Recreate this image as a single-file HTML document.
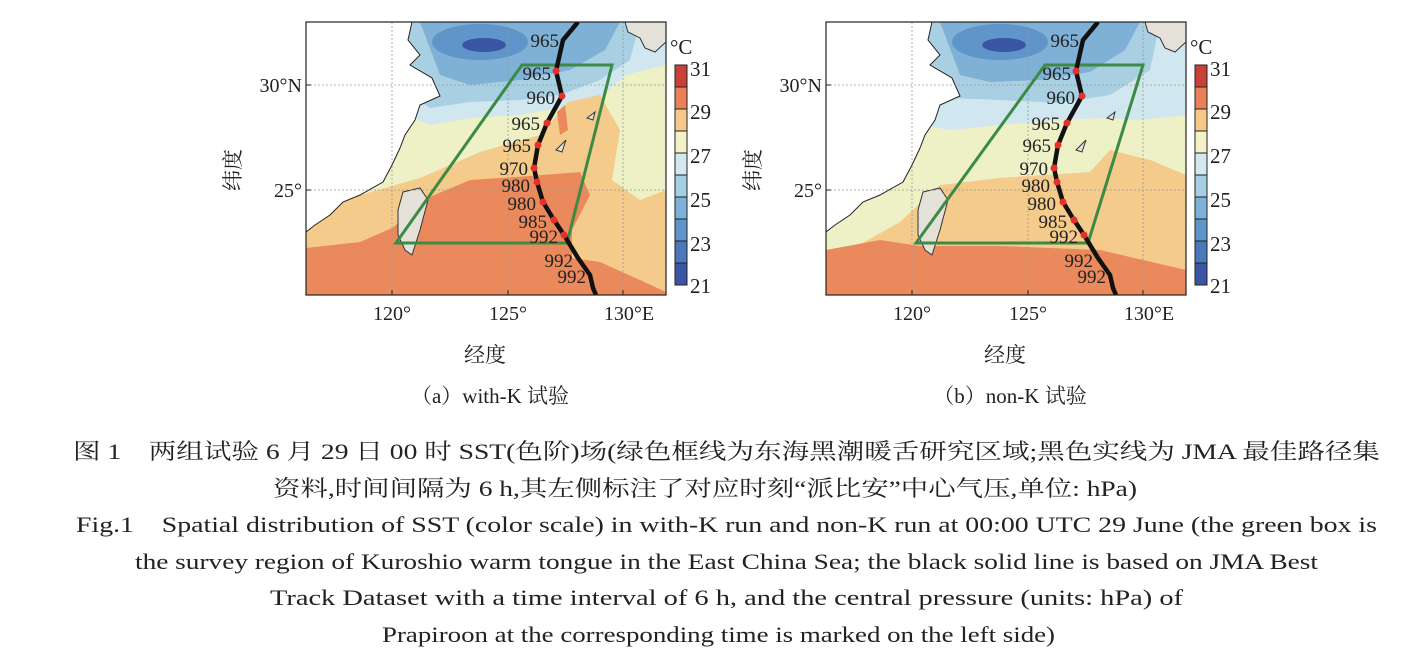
<!DOCTYPE html>
<html><head><meta charset="utf-8"><style>
html,body{margin:0;padding:0;background:#fff}
svg{display:block}
text{font-family:"Liberation Serif","Noto Serif CJK SC",serif;fill:#222}
</style></head><body>
<svg width="1410" height="664" viewBox="0 0 1410 664" xmlns="http://www.w3.org/2000/svg">
<defs>
<clipPath id="cl"><rect x="306" y="22" width="360" height="273"/></clipPath>
<clipPath id="cr"><rect x="826" y="22" width="360" height="273"/></clipPath>
<g id="land">
 <path d="M306,22 L412,22 L408,40 L420,55 L410,65 L432,78 L440,96 L420,105 L415,120 L405,135 L400,148 L392,165 L383,182 L360,195 L343,202 L330,215 L315,225 L306,232 Z" fill="#fff" stroke="#222" stroke-width="1"/>
 <path d="M403,192 L420,188 L428,200 L420,230 L412,255 L405,250 L398,235 L398,210 Z" fill="#e4e2d8" stroke="#333" stroke-width="1"/>
 <path d="M625,22 L666,22 L666,42 L655,52 L645,48 L640,38 L628,32 Z" fill="#e4e2d8" stroke="#333" stroke-width="1"/>
 <path d="M587,118 L595,112 L593,120 Z M556,150 L566,140 L562,152 Z" fill="#e4e2d8" stroke="#333" stroke-width="1"/>
</g>
<g id="grid" stroke="#999" stroke-width="0.8" stroke-dasharray="2,2" fill="none">
 <line x1="306" y1="85" x2="666" y2="85"/><line x1="306" y1="190" x2="666" y2="190"/>
 <line x1="392" y1="22" x2="392" y2="295"/><line x1="508" y1="22" x2="508" y2="295"/><line x1="623" y1="22" x2="623" y2="295"/>
</g>
<g id="track">
 <polyline points="578,22 563,40 556,71 562,96 547,123 538,145 534,168 537,182 543,202 554,220 564,235 578,258 590,275 593,288 596,295" fill="none" stroke="#111" stroke-width="4.5"/>
 <g fill="#e8302a"><circle cx="556" cy="71" r="3.5"/><circle cx="562" cy="96" r="3.5"/><circle cx="547" cy="123" r="3.5"/><circle cx="538" cy="145" r="3.5"/><circle cx="534" cy="168" r="3.5"/><circle cx="537" cy="182" r="3.5"/><circle cx="543" cy="202" r="3.5"/><circle cx="554" cy="220" r="3.5"/><circle cx="564" cy="235" r="3.5"/></g>
 <g font-size="19" text-anchor="end">
  <text x="559" y="47">965</text><text x="551" y="80">965</text><text x="555" y="104">960</text><text x="540" y="130">965</text><text x="531" y="152">965</text><text x="528" y="175">970</text><text x="530" y="192">980</text><text x="536" y="210">980</text><text x="547" y="228">985</text><text x="558" y="243">992</text><text x="573" y="267">992</text><text x="586" y="283">992</text>
 </g>
</g>
<g id="axes">
 <rect x="306" y="22" width="360" height="273" fill="none" stroke="#222" stroke-width="1.2"/>
 <g stroke="#222" stroke-width="1"><line x1="306" y1="85" x2="311" y2="85"/><line x1="306" y1="190" x2="311" y2="190"/><line x1="392" y1="295" x2="392" y2="290"/><line x1="508" y1="295" x2="508" y2="290"/><line x1="623" y1="295" x2="623" y2="290"/></g>
 <g font-size="20"><text x="302" y="92" text-anchor="end">30°N</text><text x="302" y="197" text-anchor="end">25°</text>
 <text x="392" y="320" text-anchor="middle">120°</text><text x="508" y="320" text-anchor="middle">125°</text><text x="629" y="320" text-anchor="middle">130°E</text></g>
 <text x="485" y="362" font-size="21" text-anchor="middle">经度</text>
 <text transform="translate(240,170) rotate(-90)" font-size="21" text-anchor="middle">纬度</text>
 <g stroke="#222" stroke-width="1">
  <rect x="675" y="65" width="12" height="22" fill="#c8423a"/><rect x="675" y="87" width="12" height="22" fill="#e9805a"/>
  <rect x="675" y="109" width="12" height="22" fill="#f5c98a"/><rect x="675" y="131" width="12" height="22" fill="#f3f1c8"/>
  <rect x="675" y="153" width="12" height="22" fill="#d3e9ef"/><rect x="675" y="175" width="12" height="22" fill="#a7cfe3"/>
  <rect x="675" y="197" width="12" height="22" fill="#7fb0d6"/><rect x="675" y="219" width="12" height="22" fill="#5f95c8"/>
  <rect x="675" y="241" width="12" height="22" fill="#4a78b8"/><rect x="675" y="263" width="12" height="22" fill="#3a55a3"/>
 </g>
 <g font-size="21"><text x="670" y="54">°C</text><text x="690" y="76">31</text><text x="690" y="119">29</text><text x="690" y="163">27</text><text x="690" y="207">25</text><text x="690" y="251">23</text><text x="690" y="293">21</text></g>
</g>
</defs>

<!-- Left panel -->
<g clip-path="url(#cl)">
 <rect x="306" y="22" width="360" height="273" fill="#eef0c6"/>
 <path d="M306,22 L666,22 L666,65 L625,75 L600,98 L560,108 L520,115 L470,118 L430,125 L400,112 L306,100 Z" fill="#d0e7ef"/>
 <path d="M400,22 L640,22 L630,60 L600,80 L560,95 L520,100 L470,102 L430,108 L410,95 Z" fill="#a9cfe3"/>
 <path d="M420,22 L620,22 L605,50 L570,70 L520,80 L470,85 L440,75 Z" fill="#7fb0d6"/>
 <ellipse cx="480" cy="42" rx="48" ry="18" fill="#5f95c8"/>
 <ellipse cx="484" cy="45" rx="22" ry="7" fill="#3a55a3"/>
 <path d="M306,215 L350,198 L420,178 L480,152 L540,135 L568,102 L600,95 L620,130 L612,180 L640,200 L666,190 L666,295 L306,295 Z" fill="#f5cb8c"/>
 <path d="M306,248 L360,242 L392,228 L432,196 L470,180 L530,176 L580,172 L590,195 L572,230 L572,258 L600,262 L640,280 L666,292 L666,295 L306,295 Z" fill="#ea8a5c"/>
 <path d="M557,112 L565,105 L568,130 L560,135 Z" fill="#ea8a5c"/>
 <use href="#land"/>
 <use href="#grid"/>
 <path d="M396,243 L522,65 L612,65 L567,243 Z" fill="none" stroke="#3c8a45" stroke-width="3"/>
 <use href="#track"/>
</g>
<use href="#axes"/>
<text x="490" y="403" font-size="21" text-anchor="middle">（a）with-K 试验</text>

<!-- Right panel -->
<g clip-path="url(#cr)">
 <rect x="826" y="22" width="360" height="273" fill="#eef0c6"/>
 <path d="M826,22 L1186,22 L1186,115 L1140,120 L1100,118 L1060,120 L1000,125 L950,130 L920,125 L826,110 Z" fill="#d0e7ef"/>
 <path d="M920,22 L1160,22 L1150,70 L1110,95 L1060,103 L1000,100 L950,98 L930,100 Z" fill="#a9cfe3"/>
 <path d="M940,22 L1140,22 L1125,50 L1090,72 L1040,80 L990,82 L960,75 Z" fill="#7fb0d6"/>
 <ellipse cx="1000" cy="42" rx="48" ry="18" fill="#5f95c8"/>
 <ellipse cx="1004" cy="45" rx="22" ry="7" fill="#3a55a3"/>
 <path d="M826,268 L850,250 L900,222 L940,185 L1000,178 L1090,172 L1110,150 L1150,160 L1186,175 L1186,295 L826,295 Z" fill="#f5cb8c"/>
 <path d="M826,250 L880,240 L920,246 L1000,246 L1100,250 L1186,270 L1186,295 L826,295 Z" fill="#ea8a5c"/>
 <g transform="translate(520,0)"><use href="#land"/><use href="#grid"/></g>
 <path d="M916,243 L1045,65 L1143,65 L1088,243 Z" fill="none" stroke="#3c8a45" stroke-width="3"/>
 <g transform="translate(520,0)"><use href="#track"/></g>
</g>
<g transform="translate(520,0)"><use href="#axes"/></g>
<text x="1010" y="403" font-size="21" text-anchor="middle">（b）non-K 试验</text>

<!-- Caption -->
<g font-size="22">
<text x="73" y="459" textLength="1307" lengthAdjust="spacingAndGlyphs">图 1　两组试验 6 月 29 日 00 时 SST(色阶)场(绿色框线为东海黑潮暖舌研究区域;黑色实线为 JMA 最佳路径集</text>
<text x="273" y="496" textLength="864" lengthAdjust="spacingAndGlyphs">资料,时间间隔为 6 h,其左侧标注了对应时刻“派比安”中心气压,单位: hPa)</text>
<text x="76" y="532" textLength="1301" lengthAdjust="spacingAndGlyphs">Fig.1　Spatial distribution of SST (color scale) in with-K run and non-K run at 00:00 UTC 29 June (the green box is</text>
<text x="135" y="569" textLength="1183" lengthAdjust="spacingAndGlyphs">the survey region of Kuroshio warm tongue in the East China Sea; the black solid line is based on JMA Best</text>
<text x="270" y="605" textLength="913" lengthAdjust="spacingAndGlyphs">Track Dataset with a time interval of 6 h, and the central pressure (units: hPa) of</text>
<text x="382" y="642" textLength="673" lengthAdjust="spacingAndGlyphs">Prapiroon at the corresponding time is marked on the left side)</text>
</g>
</svg>
</body></html>
